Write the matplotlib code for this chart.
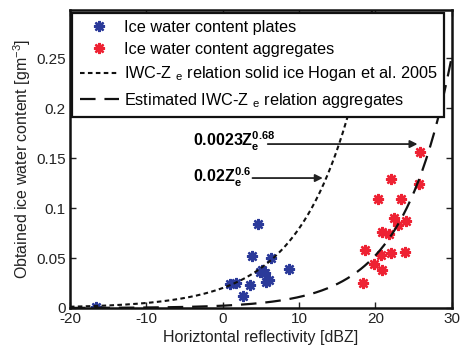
import numpy as np
import matplotlib
matplotlib.use('Agg')
import matplotlib.pyplot as plt

plt.rcParams['font.family'] = 'Liberation Sans'
plt.rcParams['mathtext.fontset'] = 'custom'
plt.rcParams['mathtext.rm'] = 'Liberation Sans'
plt.rcParams['mathtext.it'] = 'Liberation Sans:italic'
plt.rcParams['mathtext.bf'] = 'Liberation Sans:bold'
plt.rcParams['axes.unicode_minus'] = False

# plate measurements (dBZ, g m^-3)
plates_dbz = [-16.6, 0.9, 1.7, 2.7, 3.6, 3.9, 4.65, 4.9, 5.1, 5.5, 5.7, 6.0, 6.3, 8.7]
plates_iwc = [0.001, 0.024, 0.025, 0.012, 0.023, 0.052, 0.084, 0.036, 0.038, 0.035,
              0.026, 0.028, 0.050, 0.039]

# aggregate measurements
aggr_dbz = [18.3, 18.6, 19.8, 20.3, 20.7, 20.8, 20.9, 21.8, 22.0, 22.0, 22.4, 23.0,
            23.4, 23.8, 24.0, 25.7, 25.8]
aggr_iwc = [0.025, 0.058, 0.044, 0.109, 0.053, 0.038, 0.076, 0.074, 0.129, 0.055,
            0.090, 0.083, 0.109, 0.056, 0.087, 0.124, 0.156]

# IWC = a * Ze^b
hogan_a, hogan_b = 0.02, 0.6
aggr_a, aggr_b = 0.0023, 0.68

dbz = np.linspace(-20, 30, 400)
ze = 10 ** (dbz / 10)

fig = plt.figure(figsize=(4.63, 3.49), dpi=100)
ax = fig.add_axes([0.151, 0.1175, 0.825, 0.8535])

star = (8, 2, 0)
ax.plot(plates_dbz, plates_iwc, linestyle='none', marker=star, markersize=8,
        markeredgewidth=1.7, color='#2b3a9a', label='Ice water content plates')
ax.plot(aggr_dbz, aggr_iwc, linestyle='none', marker=star, markersize=8,
        markeredgewidth=1.7, color='#ee2233', label='Ice water content aggregates')
ax.plot(dbz, hogan_a * ze ** hogan_b, color='#111111', lw=1.5, dashes=(2.2, 1.6),
        label='IWC-Z $_{\\rm e}$ relation solid ice Hogan et al. 2005')
ax.plot(dbz, aggr_a * ze ** aggr_b, color='#111111', lw=1.6, dashes=(7, 4),
        label='Estimated IWC-Z $_{\\rm e}$ relation aggregates')

# formula labels with arrows
arrow = dict(arrowstyle='-|>', color='#222222', lw=1.3, mutation_scale=11,
             shrinkA=0, shrinkB=0)
ax.annotate('', xy=(25.5, 0.164), xytext=(5.9, 0.164), arrowprops=arrow)
ax.text(-3.9, 0.162, r'$\mathbf{0.0023Z_e^{0.68}}$', ha='left', va='baseline',
        fontsize=11.5)
ax.annotate('', xy=(13.1, 0.130), xytext=(3.9, 0.130), arrowprops=arrow)
ax.text(-3.9, 0.126, r'$\mathbf{0.02Z_e^{0.6}}$', ha='left', va='baseline',
        fontsize=11.5)

ax.set_xlim(-20, 30)
ax.set_ylim(0, 0.298)
ax.set_xticks([-20, -10, 0, 10, 20, 30])
ax.set_yticks([0, 0.05, 0.1, 0.15, 0.2, 0.25])
ax.set_yticklabels(['0', '0.05', '0.1', '0.15', '0.2', '0.25'])
ax.tick_params(direction='in', top=True, right=True, labelsize=11, length=4,
               width=1, colors='#222222', pad=3)
for s in ax.spines.values():
    s.set_linewidth(1.8)
    s.set_color('#111111')

ax.set_xlabel('Horiztontal reflectivity [dBZ]', fontsize=11.5, color='#222222', labelpad=3)
ax.set_ylabel('Obtained ice water content [gm$^{-3}$]', fontsize=11.5, color='#222222',
              labelpad=2)

leg = ax.legend(loc='upper left', fontsize=11.7, frameon=True, fancybox=False,
                handlelength=2.4, handletextpad=0.3, borderpad=0.45, labelspacing=0.45,
                borderaxespad=0.15)
leg.get_frame().set_edgecolor('#111111')
leg.get_frame().set_linewidth(1.6)
leg.get_frame().set_alpha(1)

fig.savefig('out.png', dpi=100)
